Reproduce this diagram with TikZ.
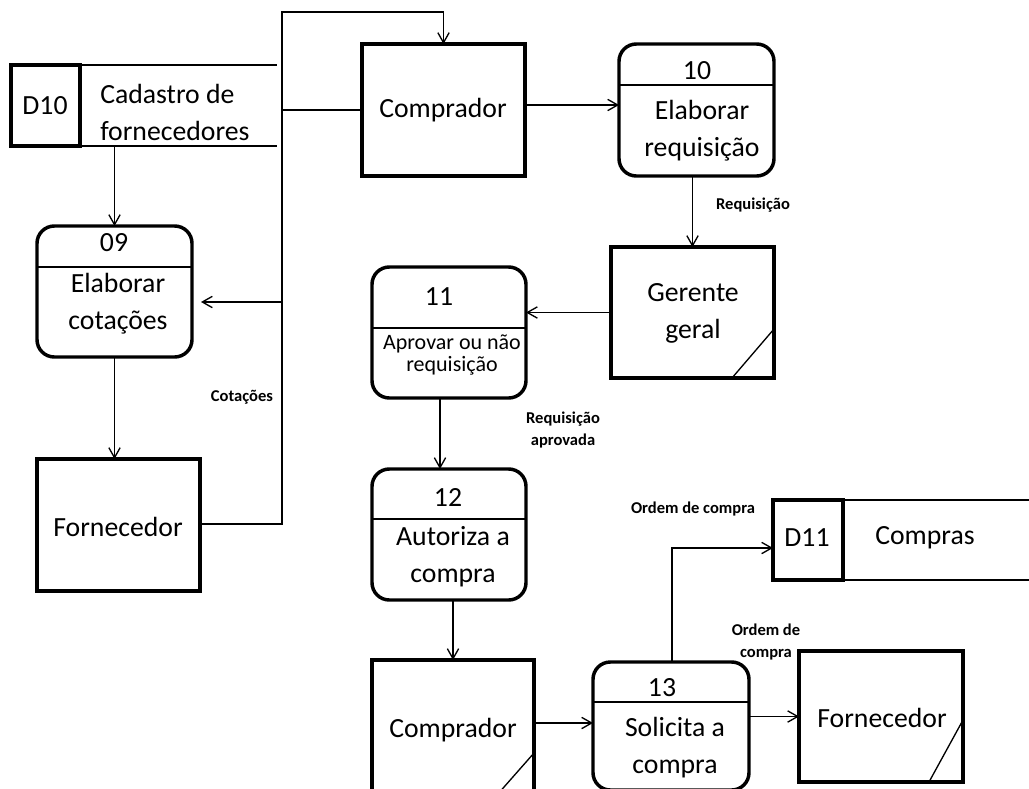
\documentclass[tikz,border=0pt]{standalone}
\usepackage{fontspec}
\setmainfont{Carlito}
\usetikzlibrary{arrows.meta,fit}
\begin{document}
\begin{tikzpicture}[x=0.75pt,y=-0.75pt,
  heavy/.style={draw,line width=2.6pt,inner sep=0pt,outer sep=0pt},
  entity/.style={heavy,rectangle},
  proc/.style={heavy,rectangle,rounded corners=13pt},
  storebox/.style={heavy,rectangle},
  thinline/.style={line width=1pt},
  flowarrow/.style={line width=1pt,-{Straight Barb[length=7.5pt,width=8.5pt,line width=1pt]}},
  bigtxt/.style={font=\fontsize{20.8}{27.75}\selectfont,align=center,inner sep=0pt},
  midtxt/.style={font=\fontsize{16.5}{16.5}\selectfont,align=center,inner sep=0pt},
  lbltxt/.style={font=\bfseries\fontsize{12.4}{17}\selectfont,align=center,inner sep=0pt},
]
\useasboundingbox (0,0) rectangle (1029,789);
\clip (0,0) rectangle (1029,789);

% ---- data store D10 ----
\node[storebox, fit={(11,65)(80,146)}] (d10) {};
\node[bigtxt] (d10id) at (45,106) {D10};
\coordinate (d10end) at (277,0);
\draw[thinline] (d10.north east) -- (d10.north east -| d10end);
\draw[thinline] (d10.south east) -- (d10.south east -| d10end);
\node[bigtxt, align=left, anchor=west] (d10name) at (100,112) {Cadastro de\\fornecedores};

% ---- external entities ----
\node[entity, fit={(362,44)(525,176)}] (c1) {};
\node[bigtxt] (c1name) at (443,110) {Comprador};

\node[entity, fit={(37,459)(200,591)}] (f1) {};
\node[bigtxt] (f1name) at (118,527) {Fornecedor};

\node[entity, fit={(611,247)(774,378)}] (g) {};
\draw[thinline] (774,329) -- (732,378);
\node[bigtxt] (gname) at (693,313) {Gerente\\geral};

\node[entity, fit={(372,660)(534,795)}] (c2) {};
\draw[thinline] (534,753) -- (497,795);
\node[bigtxt] (c2name) at (453,730) {Comprador};

\node[entity, fit={(799,651)(963,782)}] (f2) {};
\draw[thinline] (963,720) -- (929,782);
\node[bigtxt] (f2name) at (882,718) {Fornecedor};

% ---- processes ----
\node[proc, fit={(37,226)(192,357)}] (p09) {};
\draw[thinline] (p09.west |- 0,267) -- (p09.east |- 0,267);
\node[bigtxt] (p09id) at (114,243) {09};
\node[bigtxt] (p09name) at (118,304) {Elaborar\\cotações};

\node[proc, fit={(619,44)(774,176)}] (p10) {};
\draw[thinline] (p10.west |- 0,85) -- (p10.east |- 0,85);
\node[bigtxt] (p10id) at (697,71) {10};
\node[bigtxt] (p10name) at (702,131) {Elaborar\\requisição};

\node[proc, fit={(372,267)(526,398)}] (p11) {};
\draw[thinline] (p11.west |- 0,328) -- (p11.east |- 0,328);
\node[bigtxt] (p11id) at (439,297) {11};
\node[midtxt] (p11name) at (452,355) {Aprovar ou não\\requisição};

\node[proc, fit={(372,469)(526,600)}] (p12) {};
\draw[thinline] (p12.west |- 0,519) -- (p12.east |- 0,519);
\node[bigtxt] (p12id) at (448,497) {12};
\node[bigtxt] (p12name) at (453,557) {Autoriza a\\compra};

\node[proc, fit={(593,662)(749,790)}] (p13) {};
\draw[thinline] (p13.west |- 0,702) -- (p13.east |- 0,702);
\node[bigtxt] (p13id) at (662,688) {13};
\node[bigtxt] (p13name) at (675,748) {Solicita a\\compra};

% ---- data store D11 ----
\node[storebox, fit={(773,500)(843,580)}] (d11) {};
\node[bigtxt] (d11id) at (807,538) {D11};
\draw[thinline] (d11.north east) -- (1040,500);
\draw[thinline] (d11.south east) -- (1040,580);
\node[bigtxt] (d11name) at (925,538) {Compras};

% ---- flows ----
\coordinate (trunkTop) at (282,12);
\coordinate (trunkBot) at (282,524);
\coordinate (p09tip) at (201,302);
\draw[flowarrow] (f1.east |- trunkBot) -- (trunkBot) -- (trunkTop) -- (c1.north |- trunkTop) -- (c1.north);
\draw[thinline] (c1.west) -- (c1.west -| trunkTop);
\draw[flowarrow] (trunkTop |- p09tip) -- (p09tip);
\draw[flowarrow] (d10.south east -| p09.north) -- (p09.north);
\draw[flowarrow] (p09.south) -- (p09.south |- f1.north);
\draw[flowarrow] (c1.east |- 0,105) -- (p10.west |- 0,105);
\draw[flowarrow] (g.north |- p10.south) -- (g.north);
\draw[flowarrow] (g.west) -- (g.west -| p11.east);
\draw[flowarrow] (p11.south -| 440,0) -- (p12.north -| 440,0);
\draw[flowarrow] (p12.south -| c2.north) -- (c2.north);
\draw[flowarrow] (c2.east |- 0,723) -- (p13.west |- 0,723);
\coordinate (d11bend) at (672,548);
\draw[flowarrow] (p13.north -| d11bend) -- (d11bend) -- (d11bend -| d11.west);
\draw[flowarrow] (f2.west -| p13.east) -- (f2.west);

% ---- flow labels ----
\node[lbltxt] (lreq) at (753,205) {Requisição};
\node[lbltxt] (lcot) at (242,397) {Cotações};
\node[lbltxt] (lreqap) at (563,430) {Requisição\\aprovada};
\node[lbltxt] (lord1) at (693,509) {Ordem de compra};
\node[lbltxt] (lord2) at (766,642) {Ordem de\\compra};
\end{tikzpicture}
\end{document}
